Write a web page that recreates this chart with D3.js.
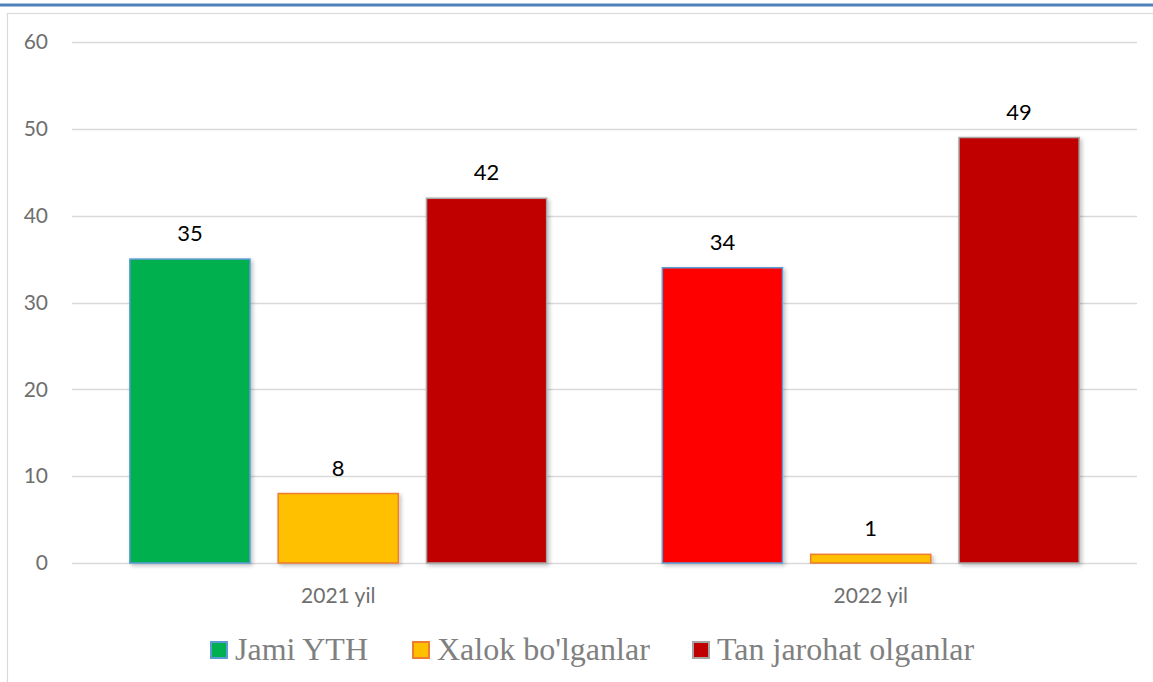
<!DOCTYPE html>
<html>
<head>
<meta charset="utf-8">
<script src="https://cdn.jsdelivr.net/npm/d3@7"></script>
<style>
  html, body { margin: 0; padding: 0; background: #fff; }
  svg { display: block; }
</style>
</head>
<body>
<svg id="chart" width="1153" height="682"></svg>
<script>
const categories = ["2021 yil", "2022 yil"];
const seriesNames = ["Jami YTH", "Xalok bo'lganlar", "Tan jarohat olganlar"];
const jamiYTH = [35, 34];
const xalok = [8, 1];
const tanJarohat = [42, 49];
const yTicks = [0, 10, 20, 30, 40, 50, 60];

const seriesValues = [jamiYTH, xalok, tanJarohat];
// fill colours per series, per category
const fills = [["#00b050", "#ff0000"], ["#ffc000", "#ffc000"], ["#c00000", "#c00000"]];
const strokes = ["#5b9bd5", "#ed7d31", "#a5a5a5"];
const legendFills = ["#00b050", "#ffc000", "#c00000"];

const svg = d3.select("#chart");

// page decorations
svg.append("rect").attr("x", 0).attr("y", 3.5).attr("width", 1153).attr("height", 3).attr("fill", "#4f81bd");
svg.append("rect").attr("x", 7.5).attr("y", 13.5).attr("width", 1160).attr("height", 700)
  .attr("fill", "none").attr("stroke", "#d9d9d9").attr("stroke-width", 1.2);

const x0 = d3.scaleBand().domain(categories).range([72, 1137]);
const x1 = d3.scaleBand().domain(seriesNames).range([0, x0.bandwidth()]).paddingInner(0.19).paddingOuter(0.39);
const y = d3.scaleLinear().domain([0, 60]).range([563, 42]);

// gridlines
svg.append("g").selectAll("line").data(yTicks).join("line")
  .attr("x1", 72).attr("x2", 1137)
  .attr("y1", d => Math.round(y(d)) + 0.5).attr("y2", d => Math.round(y(d)) + 0.5)
  .attr("stroke", "#d9d9d9").attr("stroke-width", 1.3);

const labelFont = "Lato, 'Open Sans', sans-serif";

// y axis labels
const yAxis = d3.axisLeft(y).tickValues(yTicks).tickSize(0).tickPadding(0);
const gy = svg.append("g").attr("transform", "translate(48,0)").call(yAxis);
gy.select(".domain").remove();
gy.selectAll("text").attr("font-family", labelFont).attr("font-size", 21).attr("fill", "#6f6f6f");

// x axis labels
const xAxis = d3.axisBottom(x0).tickSize(0).tickPadding(0);
const gx = svg.append("g").attr("transform", "translate(0,588)").call(xAxis);
gx.select(".domain").remove();
gx.selectAll("text").attr("font-family", labelFont).attr("font-size", 21).attr("fill", "#6f6f6f");

// shadow filter
const defs = svg.append("defs");
const f = defs.append("filter").attr("id", "sh").attr("x", "-10%").attr("y", "-10%").attr("width", "120%").attr("height", "120%");
f.append("feGaussianBlur").attr("in", "SourceAlpha").attr("stdDeviation", 2).attr("result", "b");
f.append("feOffset").attr("in", "b").attr("dx", 2).attr("dy", 2).attr("result", "o");
f.append("feComponentTransfer").attr("in", "o").attr("result", "o2")
  .append("feFuncA").attr("type", "linear").attr("slope", 0.25);
const m = f.append("feMerge");
m.append("feMergeNode").attr("in", "o2");
m.append("feMergeNode").attr("in", "SourceGraphic");

const barData = [];
categories.forEach((c, ci) => {
  seriesNames.forEach((s, si) => {
    barData.push({ cat: c, ser: s, si, value: seriesValues[si][ci], fill: fills[si][ci], stroke: strokes[si] });
  });
});

const bars = svg.append("g");
bars.selectAll("rect").data(barData).join("rect")
  .attr("x", d => x0(d.cat) + x1(d.ser))
  .attr("y", d => y(d.value))
  .attr("width", x1.bandwidth())
  .attr("height", d => y(0) - y(d.value))
  .attr("fill", d => d.fill)
  .attr("stroke", d => d.stroke)
  .attr("stroke-width", 1.5)
  .attr("filter", "url(#sh)");

svg.append("g").selectAll("text").data(barData).join("text")
  .attr("x", d => x0(d.cat) + x1(d.ser) + x1.bandwidth() / 2)
  .attr("y", d => y(d.value) - 18)
  .attr("text-anchor", "middle")
  .attr("font-family", labelFont)
  .attr("font-size", 22)
  .attr("fill", "#000")
  .text(d => d.value);

// legend
const legendX = [210, 412, 692];
const lg = svg.append("g");
seriesNames.forEach((s, i) => {
  lg.append("rect").attr("x", legendX[i] + 1).attr("y", 642).attr("width", 16).attr("height", 16)
    .attr("fill", legendFills[i]).attr("stroke", strokes[i]).attr("stroke-width", 2);
  lg.append("text").attr("x", legendX[i] + 25).attr("y", 660)
    .attr("font-family", "'Liberation Serif', 'Times New Roman', serif")
    .attr("font-size", 32).attr("fill", "#808080").text(s);
});
</script>
</body>
</html>
